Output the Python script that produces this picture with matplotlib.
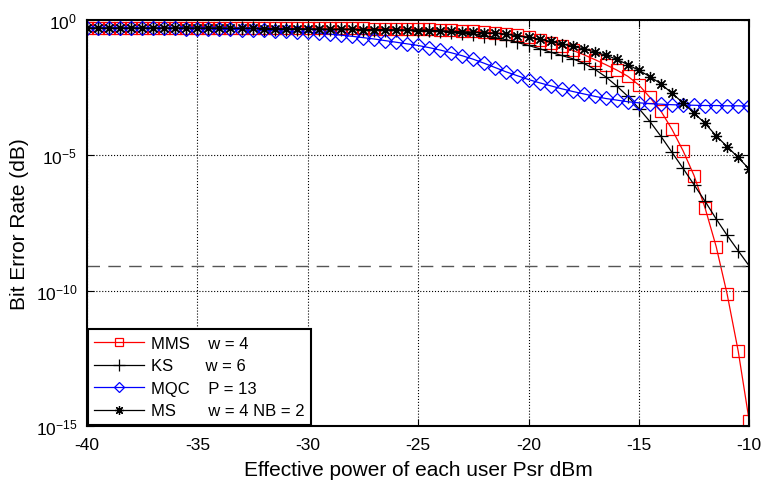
import matplotlib.pyplot as plt
import numpy as np

plt.rcParams['font.family'] = ['Liberation Sans', 'DejaVu Sans']
plt.rcParams['axes.unicode_minus'] = False

# Effective power (dBm), one marker every 0.5 dB
psr = np.arange(-40, -9.75, 0.5)

# log10 of BER
mms_log = [-0.30] * 21 + [
    -0.30, -0.30, -0.31, -0.31, -0.31, -0.32, -0.32, -0.33, -0.33, -0.34,
    -0.35, -0.36, -0.37, -0.39, -0.41, -0.44, -0.47, -0.51, -0.56, -0.62,
    -0.72, -0.84, -0.97, -1.12, -1.28, -1.46, -1.65, -1.85, -2.08, -2.40,
    -2.86, -3.37, -4.04, -4.83, -5.75, -6.95, -8.37, -10.14, -12.24, -14.83]
ks_log = [-0.30] * 11 + [
    -0.30, -0.30, -0.31, -0.31, -0.31, -0.32, -0.32, -0.33, -0.33, -0.34,
    -0.34, -0.35, -0.35, -0.35, -0.36, -0.36, -0.36, -0.37, -0.37, -0.37,
    -0.38, -0.40, -0.43, -0.47, -0.52, -0.58, -0.65, -0.73, -0.83, -0.94,
    -1.06, -1.19, -1.31, -1.43, -1.60, -1.82, -2.10, -2.44, -2.82, -3.27,
    -3.75, -4.30, -4.89, -5.48, -6.09, -6.70, -7.35, -7.96, -8.53, -9.09]
mqc_log = [
    -0.29, -0.29, -0.29, -0.29, -0.30, -0.30, -0.30, -0.31, -0.31, -0.32, -0.32,
    -0.33, -0.34, -0.35, -0.36, -0.37, -0.38, -0.40, -0.41, -0.43, -0.45,
    -0.48, -0.52, -0.56, -0.60, -0.65, -0.70, -0.76, -0.82, -0.88, -0.94,
    -1.02, -1.11, -1.21, -1.32, -1.45, -1.60, -1.76, -1.92, -2.06, -2.20,
    -2.32, -2.43, -2.54, -2.64, -2.73, -2.82, -2.90, -2.96, -3.02, -3.06,
    -3.09, -3.11, -3.13, -3.14, -3.15, -3.16, -3.16, -3.17, -3.17, -3.18]
ms_log = [-0.30] * 11 + [
    -0.30, -0.30, -0.31, -0.31, -0.31, -0.32, -0.32, -0.33, -0.33, -0.34,
    -0.34, -0.35, -0.35, -0.35, -0.36, -0.36, -0.37, -0.37, -0.38, -0.39,
    -0.40, -0.41, -0.42, -0.43, -0.45, -0.47, -0.49, -0.53, -0.58, -0.64,
    -0.71, -0.79, -0.88, -0.97, -1.07, -1.18, -1.30, -1.45, -1.65, -1.86,
    -2.09, -2.36, -2.71, -3.06, -3.44, -3.82, -4.28, -4.68, -5.08, -5.51]

threshold_log = -9.09

x_ticks = [-40, -35, -30, -25, -20, -15, -10]
y_ticks = [1e0, 1e-5, 1e-10, 1e-15]

fig = plt.figure(figsize=(7.63, 4.89), dpi=100)
ax = fig.add_axes([0.114, 0.127, 0.868, 0.830])

ax.semilogy(psr, 10.0 ** np.array(mms_log), color='red', lw=0.9, marker='s', ms=8,
            mfc='none', mec='red', mew=0.9, label='MMS    w = 4')
ax.semilogy(psr, 10.0 ** np.array(ks_log), color='black', lw=0.9, marker='+', ms=10,
            mew=0.9, label='KS       w = 6')
ax.semilogy(psr, 10.0 ** np.array(mqc_log), color='blue', lw=0.9, marker='D', ms=7,
            mfc='none', mec='blue', mew=0.9, label='MQC    P = 13')
ax.semilogy(psr, 10.0 ** np.array(ms_log), color='black', lw=0.9, marker=(8, 2, 0), ms=8,
            mew=0.9, label='MS       w = 4 NB = 2')

# dashed reference level
ax.axhline(10.0 ** threshold_log, color='#555555', lw=1.0, ls=(0, (9, 6)))

ax.set_xlim(-40, -10)
ax.set_ylim(1e-15, 1e0)
ax.set_xticks(x_ticks)
ax.set_yticks(y_ticks)
ax.minorticks_off()
ax.tick_params(direction='in', top=True, right=True, labelsize=12.5, length=5)
ax.tick_params(axis='x', pad=8)
ax.tick_params(axis='y', pad=7)
ax.grid(True, which='major', color='black', ls=':', lw=0.8)
for s in ax.spines.values():
    s.set_linewidth(1.5)

ax.set_xlabel('Effective power of each user Psr dBm', fontsize=15, labelpad=6)
ax.set_ylabel('Bit Error Rate (dB)', fontsize=15, labelpad=5)

leg = ax.legend(loc='lower left', fontsize=12, handlelength=3.0, handletextpad=0.4,
                fancybox=False, framealpha=1, edgecolor='black', borderaxespad=0.05,
                labelspacing=0.45, borderpad=0.4, markerscale=0.8)
leg.get_frame().set_linewidth(1.5)

plt.savefig('out.png', dpi=100)
